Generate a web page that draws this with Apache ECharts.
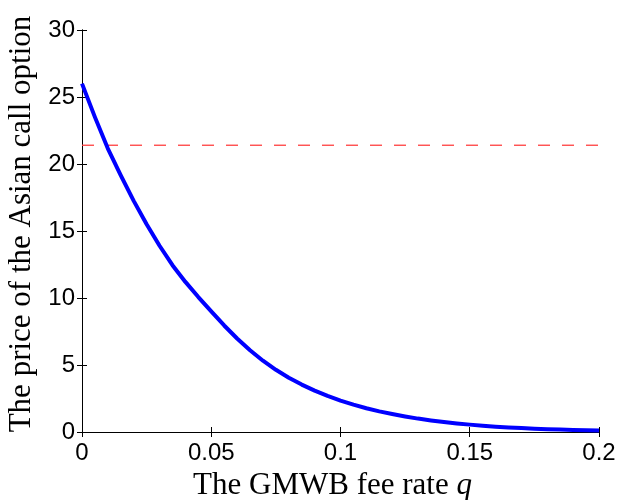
<!DOCTYPE html>
<html>
<head>
<meta charset="utf-8">
<script src="https://cdn.jsdelivr.net/npm/echarts@6/dist/echarts.min.js"></script>
<style>
  html, body { margin: 0; padding: 0; background: #fff; }
  #chart { width: 618px; height: 500px; }
</style>
</head>
<body>
<div id="chart"></div>
<script>
// GMWB fee rate q and the corresponding Asian call option price
const feeRates = [
  0, 0.005, 0.01, 0.015, 0.02, 0.025, 0.03, 0.035, 0.04, 0.045,
  0.05, 0.055, 0.06, 0.065, 0.07, 0.075, 0.08, 0.085, 0.09, 0.095,
  0.1, 0.105, 0.11, 0.115, 0.12, 0.125, 0.13, 0.135, 0.14, 0.145,
  0.15, 0.155, 0.16, 0.165, 0.17, 0.175, 0.18, 0.185, 0.19, 0.195, 0.2
];
const optionPrices = [
  26.0, 23.5, 21.15, 19.15, 17.25, 15.5, 13.9, 12.45, 11.2, 10.07,
  9.0, 7.95, 6.98, 6.1, 5.32, 4.64, 4.05, 3.54, 3.09, 2.69,
  2.34, 2.04, 1.77, 1.54, 1.34, 1.16, 1.0, 0.865, 0.745, 0.64,
  0.55, 0.47, 0.40, 0.34, 0.29, 0.245, 0.21, 0.18, 0.155, 0.13, 0.11
];
// Horizontal reference level (dashed line)
const referencePrice = 21.4;
const referenceSpan = [0, 0.2];

// Tick labels
const xTickValues = [0, 0.05, 0.1, 0.15, 0.2];
const xTickLabels = ['0', '0.05', '0.1', '0.15', '0.2'];
const yTickValues = [0, 5, 10, 15, 20, 25, 30];
const yTickLabels = ['0', '5', '10', '15', '20', '25', '30'];

function labelFor(values, labels) {
  return function (v) {
    for (let i = 0; i < values.length; i++) {
      if (Math.abs(values[i] - v) < 1e-9) return labels[i];
    }
    return '';
  };
}

const chart = echarts.init(document.getElementById('chart'), null, { renderer: 'canvas' });

const tickFont = { fontFamily: 'Liberation Sans', fontSize: 24, color: '#000' };
const nameFont = { fontFamily: 'Liberation Serif', fontSize: 31, color: '#000' };
const lineStyle = { color: '#000', width: 1 };

chart.setOption({
  animation: false,
  backgroundColor: '#fff',
  grid: { left: 82, right: 19, top: 30, bottom: 68, containLabel: false, outerBoundsMode: 'none' },
  xAxis: [
    {
      type: 'value', min: 0, max: 0.2, interval: 0.05,
      position: 'bottom',
      name: 'The GMWB fee rate {i|q}',
      nameLocation: 'middle', nameGap: 32,
      nameTextStyle: Object.assign({}, nameFont, {
        padding: [0, 16, 0, 0],
        rich: { i: { fontFamily: 'Liberation Serif', fontStyle: 'italic', fontSize: 31, color: '#000' } }
      }),
      axisLine: { show: true, lineStyle: lineStyle },
      axisTick: { show: true, inside: true, length: 5, lineStyle: lineStyle },
      axisLabel: Object.assign({ margin: 9, formatter: labelFor(xTickValues, xTickLabels) }, tickFont),
      splitLine: { show: false }
    },
    {
      type: 'value', min: 0, max: 0.2, interval: 0.05,
      position: 'top',
      axisLine: { show: true, lineStyle: lineStyle },
      axisTick: { show: true, inside: true, length: 5, lineStyle: lineStyle },
      axisLabel: { show: false },
      splitLine: { show: false }
    }
  ],
  yAxis: [
    {
      type: 'value', min: 0, max: 30, interval: 5,
      position: 'left',
      name: 'The price of the Asian call option',
      nameLocation: 'middle', nameGap: 43,
      nameTextStyle: Object.assign({}, nameFont, { padding: [0, 0, 0, 14] }),
      axisLine: { show: true, lineStyle: lineStyle },
      axisTick: { show: true, inside: true, length: 5, lineStyle: lineStyle },
      axisLabel: Object.assign({ margin: 7, formatter: labelFor(yTickValues, yTickLabels) }, tickFont),
      splitLine: { show: false }
    },
    {
      type: 'value', min: 0, max: 30, interval: 5,
      position: 'right',
      axisLine: { show: true, lineStyle: lineStyle },
      axisTick: { show: true, inside: true, length: 5, lineStyle: lineStyle },
      axisLabel: { show: false },
      splitLine: { show: false }
    }
  ],
  series: [
    {
      type: 'line',
      data: referenceSpan.map(q => [q, referencePrice]),
      showSymbol: false,
      lineStyle: { color: '#ff4040', width: 1.3, type: [12, 12] },
      z: 2
    },
    {
      type: 'line',
      data: feeRates.map((q, i) => [q, optionPrices[i]]),
      showSymbol: false,
      smooth: false,
      lineStyle: { color: '#0000ff', width: 4, join: 'round' },
      z: 3
    }
  ]
});
</script>
</body>
</html>
